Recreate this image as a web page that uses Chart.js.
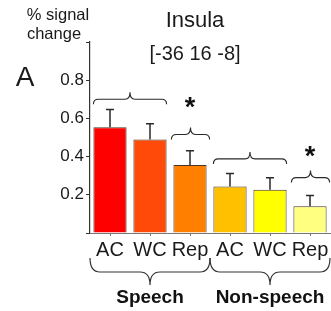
<!DOCTYPE html>
<html>
<head>
<meta charset="utf-8">
<script src="https://cdn.jsdelivr.net/npm/chart.js@4/dist/chart.umd.min.js"></script>
<style>
  body { margin: 0; background: #fff; }
  canvas { display: block; }
</style>
</head>
<body>
<canvas id="c" width="331" height="311"></canvas>
<script>
// values
var categories = ['AC', 'WC', 'Rep', 'AC', 'WC', 'Rep'];
var means = [0.554, 0.49, 0.356, 0.244, 0.227, 0.14];
var errors = [0.092, 0.082, 0.075, 0.068, 0.062, 0.056];
var barColors = ['#ff0000', '#ff4a0a', '#ff8000', '#ffc000', '#ffff00', '#ffff80'];
var yTicks = [0.2, 0.4, 0.6, 0.8];
var groups = ['Speech', 'Non-speech'];
var groupRanges = [[0, 2], [3, 5]];
// braces above bars: first bar, last bar, level (signal change)
var braceFrom = [0, 2, 3, 5];
var braceTo = [1, 2, 4, 5];
var braceLevel = [0.70, 0.516, 0.388, 0.29];
// significance stars: category index, level
var starAt = [2, 5];
var starLevel = [0.676, 0.419];

var FONT = "'Liberation Sans', Arial, sans-serif";
var INK = '#1a1a1a';

function brace(ctx, x1, x2, yEnd, yLine, yPeak, r) {
    var mid = (x1 + x2) / 2;
    ctx.beginPath();
    ctx.moveTo(x1, yEnd);
    ctx.quadraticCurveTo(x1, yLine, x1 + r, yLine);
    ctx.lineTo(mid - r, yLine);
    ctx.quadraticCurveTo(mid, yLine, mid, yPeak);
    ctx.quadraticCurveTo(mid, yLine, mid + r, yLine);
    ctx.lineTo(x2 - r, yLine);
    ctx.quadraticCurveTo(x2, yLine, x2, yEnd);
    ctx.stroke();
}

var extras = {
    id: 'extras',
    afterDatasetsDraw: function (chart) {
        var ctx = chart.ctx;
        var ys = chart.scales.y;
        var bars = chart.getDatasetMeta(0).data;
        ctx.save();
        // error bars (upper half only)
        ctx.strokeStyle = '#2a2a2a';
        ctx.lineWidth = 1.5;
        bars.forEach(function (b, i) {
            var top = ys.getPixelForValue(means[i] + errors[i]);
            ctx.beginPath();
            ctx.moveTo(b.x, b.y);
            ctx.lineTo(b.x, top);
            ctx.moveTo(b.x - 4, top);
            ctx.lineTo(b.x + 4, top);
            ctx.stroke();
        });
        // braces over the bars
        ctx.lineWidth = 1.1;
        braceFrom.forEach(function (f, k) {
            var a = bars[f], z = bars[braceTo[k]];
            var x1 = a.x - a.width / 2, x2 = z.x + z.width / 2;
            if (f === braceTo[k]) { x1 -= 2; x2 += 3; }
            var yl = ys.getPixelForValue(braceLevel[k]);
            brace(ctx, x1, x2, yl + 5, yl, yl - 7, 5);
        });
        // stars
        ctx.fillStyle = '#111';
        ctx.font = 'bold 27px ' + FONT;
        ctx.textAlign = 'center';
        ctx.textBaseline = 'middle';
        starAt.forEach(function (c, k) {
            ctx.fillText('*', bars[c].x, ys.getPixelForValue(starLevel[k]) + 5);
        });
        // group braces below the axis
        var xs = chart.scales.x;
        var step = xs.getPixelForValue(1) - xs.getPixelForValue(0);
        ctx.strokeStyle = '#333';
        ctx.lineWidth = 1.2;
        groupRanges.forEach(function (g, k) {
            var x1 = xs.getPixelForValue(g[0]) - step / 2;
            var x2 = xs.getPixelForValue(g[1]) + step / 2;
            brace(ctx, x1, x2, 258, 272, 285, 10);
            ctx.fillStyle = '#111';
            ctx.font = 'bold 19px ' + FONT;
            ctx.fillText(groups[k], (x1 + x2) / 2, 298);
        });
        // titles
        ctx.fillStyle = INK;
        ctx.font = '16.5px ' + FONT;
        ctx.fillText('% signal', 58, 15);
        ctx.fillText('change', 54, 34);
        ctx.font = '22px ' + FONT;
        ctx.fillText('Insula', 195, 21);
        ctx.font = '20px ' + FONT;
        ctx.fillText('[-36 16 -8]', 195, 54);
        ctx.font = '28px ' + FONT;
        ctx.fillText('A', 25, 78);
        ctx.restore();
    }
};

new Chart(document.getElementById('c'), {
    type: 'bar',
    data: {
        labels: categories,
        datasets: [{
            data: means,
            backgroundColor: barColors,
            borderColor: '#4a3426',
            borderWidth: 1,
            categoryPercentage: 1,
            barPercentage: 0.83
        }]
    },
    options: {
        responsive: false,
        animation: false,
        layout: { padding: { top: 42, right: 1, left: 0, bottom: 0 } },
        plugins: { legend: { display: false }, tooltip: { enabled: false } },
        scales: {
            y: {
                min: 0,
                max: 1,
                afterFit: function (s) { s.width = 90; },
                afterBuildTicks: function (s) {
                    s.ticks = [0].concat(yTicks, [1]).map(function (v) { return { value: v }; });
                },
                border: { color: '#333', width: 1.2 },
                grid: { drawOnChartArea: false, tickLength: 4, color: '#333' },
                ticks: {
                    padding: 2,
                    color: INK,
                    font: { family: FONT, size: 17 },
                    callback: function (v) { return yTicks.indexOf(v) >= 0 ? v.toFixed(1) : ''; }
                }
            },
            x: {
                afterFit: function (s) { s.height = 78; },
                border: { color: '#777', width: 1 },
                grid: { drawOnChartArea: false, offset: false, tickLength: 3, color: '#777' },
                ticks: {
                    padding: 2,
                    color: INK,
                    maxRotation: 0,
                    autoSkip: false,
                    font: { family: FONT, size: 20 }
                }
            }
        }
    },
    plugins: [extras]
});
</script>
</body>
</html>
